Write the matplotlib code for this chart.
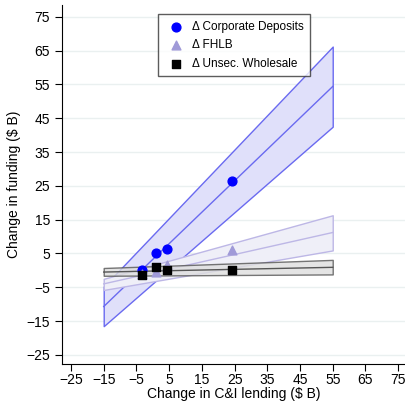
import matplotlib.pyplot as plt

plt.rcParams['font.family'] = ['Liberation Sans', 'DejaVu Sans']

# observed points
x_pts = [-3.4, 0.9, 4.3, 24.2]
corp_dep = [0.0, 5.2, 6.3, 26.5]
fhlb = [-1.0, -0.6, 1.6, 5.9]
unsec = [-1.3, 1.1, 0.0, 0.0]

# fitted lines with confidence bands (endpoints at x=-15 and x=55)
x_fit = [-15, 55]
corp_fit = [-10.7, 54.4]
corp_lo = [-16.5, 42.5]
corp_hi = [-4.8, 66.2]
fhlb_fit = [-4.0, 11.2]
fhlb_lo = [-5.8, 5.9]
fhlb_hi = [-2.5, 16.3]
unsec_fit = [-0.5, 0.9]
unsec_lo = [-1.6, -1.2]
unsec_hi = [0.7, 3.1]

ticks = [-25, -15, -5, 5, 15, 25, 35, 45, 55, 65, 75]

fig = plt.figure(figsize=(4.06, 4.03), dpi=100)
ax = fig.add_axes([62 / 406, 39 / 403, 344 / 406, 359 / 403])

for y in ticks:
    ax.axhline(y, color='#eaf0f0', lw=1, zorder=0)

ax.fill_between(x_fit, corp_lo, corp_hi, facecolor='#e0e0fa', edgecolor='#6a6af0', lw=1, zorder=1)
ax.plot(x_fit, corp_fit, color='#6a6af0', lw=1, zorder=1)
ax.fill_between(x_fit, fhlb_lo, fhlb_hi, facecolor='#efeff8', edgecolor='#bdb7e6', lw=1, zorder=2)
ax.plot(x_fit, fhlb_fit, color='#bdb7e6', lw=1, zorder=2)
ax.fill_between(x_fit, unsec_lo, unsec_hi, facecolor='#dedede', edgecolor='#555555', lw=1, alpha=0.8, zorder=3)
ax.plot(x_fit, unsec_fit, color='#555555', lw=1, zorder=3)

ax.scatter(x_pts, corp_dep, marker='o', s=40, color='#0000ff', zorder=5, label='Δ Corporate Deposits')
ax.scatter(x_pts, fhlb, marker='^', s=40, color='#a09ad8', zorder=5, label='Δ FHLB')
ax.scatter(x_pts, unsec, marker='s', s=36, color='#000000', zorder=6, label='Δ Unsec. Wholesale')

ax.set_xlim(-27.75, 77.4)
ax.set_ylim(-27.7, 78.5)
ax.set_xticks(ticks)
ax.set_yticks(ticks)
ax.tick_params(direction='out', length=5, labelsize=10)
ax.tick_params(axis='x', pad=1.5)
for s in ['top', 'right']:
    ax.spines[s].set_visible(False)
ax.set_xlabel('Change in C&I lending ($ B)', fontsize=10, labelpad=0)
ax.set_ylabel('Change in funding ($ B)', fontsize=10)

leg = ax.legend(loc='upper center', bbox_to_anchor=(0.5, 0.99), fontsize=8.5,
                frameon=True, fancybox=False, edgecolor='#333333',
                handletextpad=0.3, borderpad=0.55, labelspacing=0.55)
leg.get_frame().set_linewidth(1)

fig.savefig('out.png', dpi=100)
